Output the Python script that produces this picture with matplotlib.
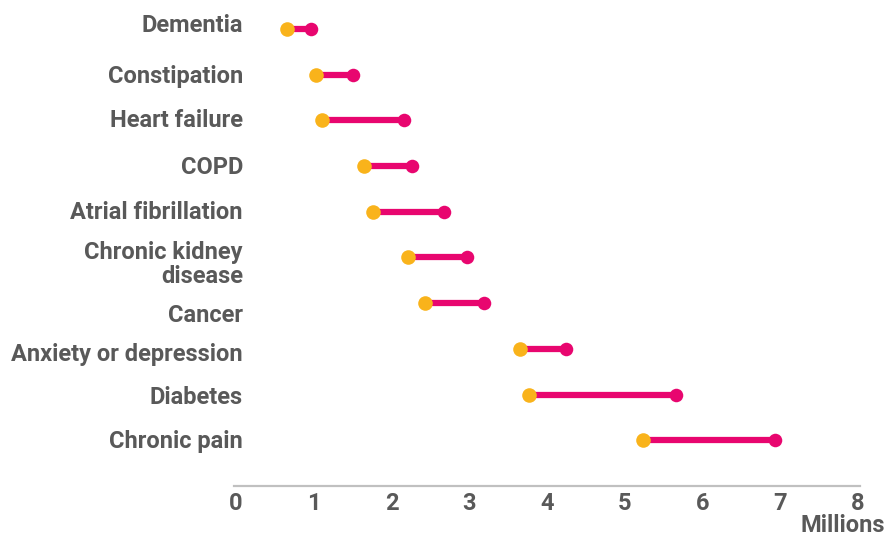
import matplotlib
matplotlib.use("Agg")
import matplotlib.pyplot as plt
import matplotlib.transforms as mtransforms
from matplotlib import font_manager

categories = ["Dementia", "Constipation", "Heart failure", "COPD",
              "Atrial fibrillation", "Chronic kidney\ndisease", "Cancer",
              "Anxiety or depression", "Diabetes", "Chronic pain"]
start_vals = [0.66, 1.03, 1.10, 1.65, 1.76, 2.21, 2.43, 3.65, 3.77, 5.23]
end_vals = [0.97, 1.51, 2.16, 2.27, 2.67, 2.97, 3.19, 4.24, 5.66, 6.93]
x_ticks = [0, 1, 2, 3, 4, 5, 6, 7, 8]

# small vertical nudges (in pixels, downward) for the category labels
label_nudge_px = [-3, 2, 0, 2, 1, 7, 12, 6, 3, 1]

names = {f.name for f in font_manager.fontManager.ttflist}
family = "Liberation Sans Narrow" if "Liberation Sans Narrow" in names else "Roboto"

PINK = "#E8066F"
ORANGE = "#F9B31B"
GREY_TEXT = "#595959"

fig = plt.figure(figsize=(8.89, 5.38), dpi=100)
ax = fig.add_axes([236 / 889, 52 / 538, (858 - 236) / 889, (486 - 6) / 538])

ys = list(range(len(categories)))
for y, s, e in zip(ys, start_vals, end_vals):
    ax.plot([s, e], [y, y], color=PINK, lw=4.5, solid_capstyle="butt", zorder=2)
ax.scatter(end_vals, ys, s=95, color=PINK, zorder=3, linewidths=0)
ax.scatter(start_vals, ys, s=110, color=ORANGE, zorder=4, linewidths=0)

ax.set_xlim(0, 8)
ax.set_ylim(10.0, -0.5)
ax.set_xticks(x_ticks)
ax.set_xticklabels([str(t) for t in x_ticks])
ax.set_yticks([])

# category labels, right-aligned just left of the zero line
base = mtransforms.blended_transform_factory(ax.transAxes, ax.transData)
for y, name, dy in zip(ys, categories, label_nudge_px):
    tr = base + mtransforms.ScaledTranslation(7 / 100, -dy / 100, fig.dpi_scale_trans)
    ax.text(0, y, name, transform=tr, ha="right", va="center", multialignment="right",
            linespacing=1.1, fontfamily=family, fontweight="bold", fontsize=17,
            color=GREY_TEXT)

for lab in ax.get_xticklabels():
    lab.set_fontfamily(family)
    lab.set_fontweight("bold")
    lab.set_fontsize(17)
    lab.set_color(GREY_TEXT)

ax.tick_params(axis="both", length=0)
ax.tick_params(axis="x", pad=4)
for side in ["top", "right", "left"]:
    ax.spines[side].set_visible(False)
ax.spines["bottom"].set_color("#C0C0C0")
ax.spines["bottom"].set_linewidth(1.6)
ax.spines["bottom"].set_bounds(-0.03, 8.03)

fig.text(885 / 889, 1 - 526 / 538, "Millions", ha="right", va="center",
         fontfamily=family, fontweight="bold", fontsize=17, color=GREY_TEXT)

fig.savefig("out.png", dpi=100)
